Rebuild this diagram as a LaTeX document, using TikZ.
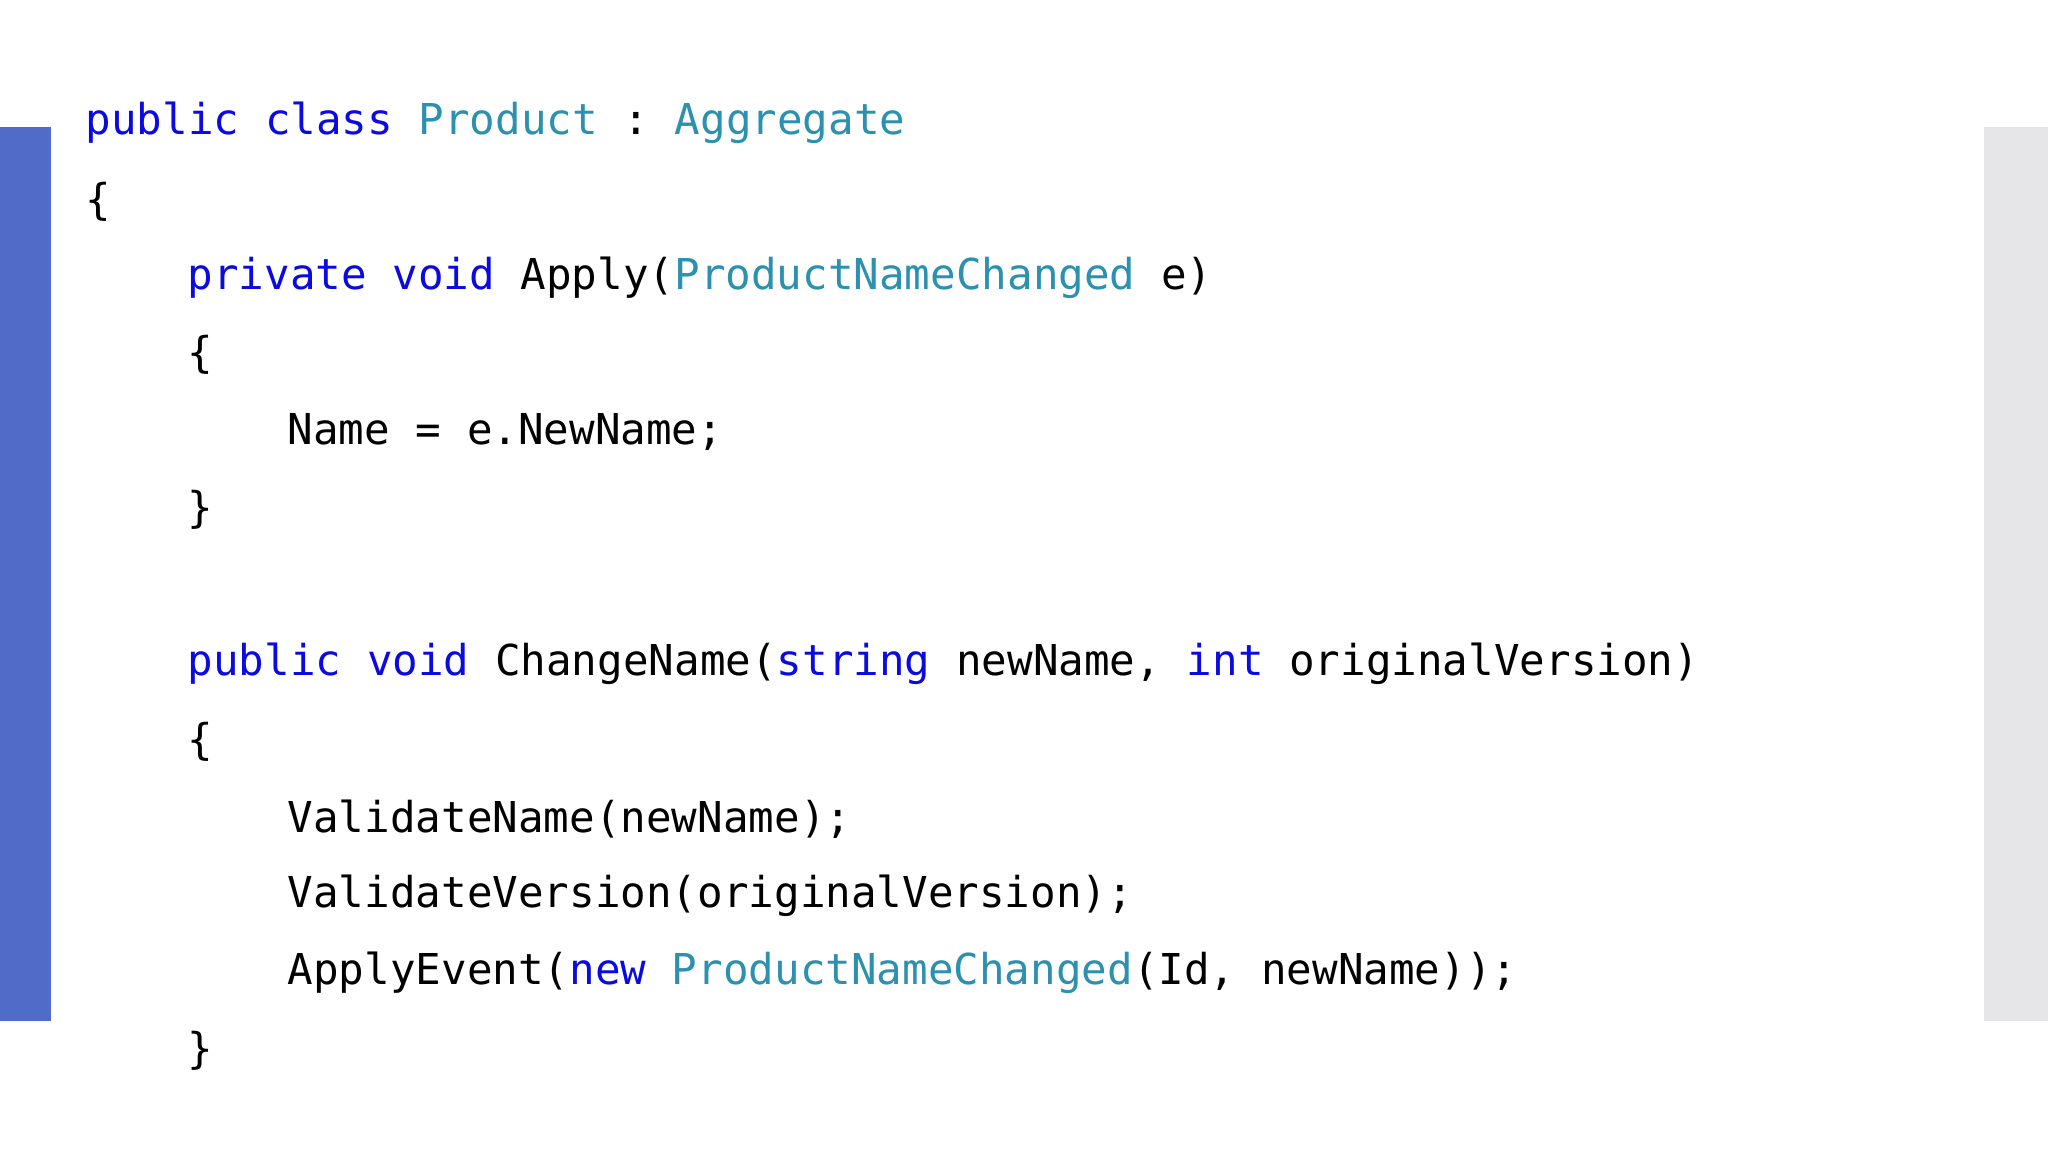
\documentclass[tikz,border=0pt]{standalone}
\usepackage{fontspec}
\setmonofont{DejaVu Sans Mono}
\definecolor{kwc}{RGB}{10,10,225}
\definecolor{tyc}{RGB}{43,145,175}
\definecolor{barb}{RGB}{80,108,200}
\definecolor{barg}{RGB}{230,229,232}
\newcommand{\kw}[1]{\textcolor{kwc}{#1}}
\newcommand{\ty}[1]{\textcolor{tyc}{#1}}
\begin{document}
\begin{tikzpicture}[x=0.01cm,y=-0.01cm,
  code/.style={anchor=west,inner sep=0pt,font=\ttfamily\fontsize{12.1pt}{14pt}\selectfont}]
\useasboundingbox (0,0) rectangle (2048,1152);
\fill[white] (0,0) rectangle (2048,1152);
\fill[barb] (0,127) rectangle (51,1021) node[coordinate] (bb) {};
\fill[barg] (1984,127) rectangle (2048,1021) node[coordinate] (gb) {};
\node[code] (l1) at (85,123) {\kw{public class} \ty{Product} : \ty{Aggregate}};
\node[code] (l2) at (85,202) {\{};
\node[code] (l3) at (187,278) {\kw{private void} Apply(\ty{ProductNameChanged} e)};
\node[code] (l4) at (187,355) {\{};
\node[code] (l5) at (287,432) {Name = e.NewName;};
\node[code] (l6) at (187,510) {\}};
\node[code] (l7) at (187,664) {\kw{public void} ChangeName(\kw{string} newName, \kw{int} originalVersion)};
\node[code] (l8) at (187,742) {\{};
\node[code] (l9) at (287,819) {ValidateName(newName);};
\node[code] (l10) at (287,896) {ValidateVersion(originalVersion);};
\node[code] (l11) at (287,973) {ApplyEvent(\kw{new} \ty{ProductNameChanged}(Id, newName));};
\node[code] (l12) at (187,1051) {\}};
\end{tikzpicture}
\end{document}
